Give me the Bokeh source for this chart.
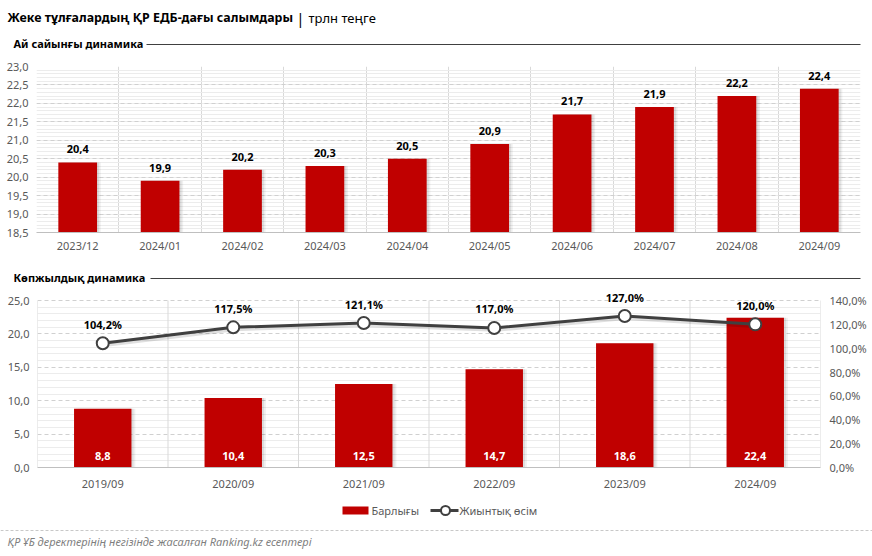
from bokeh.plotting import figure
from bokeh.layouts import column
from bokeh.models import Range1d, FixedTicker, LinearAxis, ColumnDataSource, LabelSet
from bokeh.core.properties import value
from bokeh.transform import dodge
from bokeh.embed import file_html
from bokeh.resources import INLINE

# ---------------- data ----------------
months = ["2023/12", "2024/01", "2024/02", "2024/03", "2024/04",
          "2024/05", "2024/06", "2024/07", "2024/08", "2024/09"]
monthly = [20.4, 19.9, 20.2, 20.3, 20.5, 20.9, 21.7, 21.9, 22.2, 22.4]

years = ["2019/09", "2020/09", "2021/09", "2022/09", "2023/09", "2024/09"]
yearly = [8.8, 10.4, 12.5, 14.7, 18.6, 22.4]
growth = [104.2, 117.5, 121.1, 117.0, 127.0, 120.0]

top_ticks = [18.5, 19.0, 19.5, 20.0, 20.5, 21.0, 21.5, 22.0, 22.5, 23.0]
bot_ticks = [0, 5, 10, 15, 20, 25]
pct_ticks = [0, 20, 40, 60, 80, 100, 120, 140]

TITLE = "Жеке тұлғалардың ҚР ЕДБ-дағы салымдары"
SEP = "|"
UNIT = "трлн теңге"
SUB1 = "Ай сайынғы динамика"
SUB2 = "Көпжылдық динамика"
LEG1 = "Барлығы"
LEG2 = "Жиынтық өсім"
SOURCE = "ҚР ҰБ деректерінің негізінде жасалған Ranking.kz есептері"

FONT = "Noto Sans"
RED = "#C00000"
DARK = "#404040"
AXC = "#595959"
W = 872


def fmt(v, d=1):
    return f"{v:.{d}f}".replace(".", ",")


def blank(h):
    f = figure(width=W, height=h, x_range=Range1d(0, W), y_range=Range1d(h, 0),
               output_backend="svg", toolbar_location=None, min_border=0,
               x_axis_location=None, y_axis_location=None, title=None,
               outline_line_color=None, frame_align=False)
    f.grid.visible = False
    return f


def style_axis(ax, size="11px", standoff=6):
    ax.axis_line_color = None
    ax.major_tick_line_color = None
    ax.minor_tick_line_color = None
    ax.major_tick_out = 0
    ax.major_tick_in = 0
    ax.minor_tick_out = 0
    ax.minor_tick_in = 0
    ax.major_label_standoff = standoff
    ax.major_label_text_font = FONT
    ax.major_label_text_font_size = size
    ax.major_label_text_color = AXC


# ---------------- header ----------------
hdr1 = blank(58)
hdr1.text(x=[7], y=[17], text=[TITLE], text_font=value(FONT), text_font_size="12.4px",
          text_font_style="bold", text_baseline="middle", text_color="#000000")
hdr1.text(x=[300], y=[17], text=[SEP], text_font=value(FONT), text_font_size="15px",
          text_align="center", text_baseline="middle", text_color="#000000")
hdr1.text(x=[308], y=[17], text=[UNIT], text_font=value(FONT), text_font_size="13px",
          text_baseline="middle", text_color="#000000")
hdr1.text(x=[13], y=[43], text=[SUB1], text_font=value(FONT), text_font_size="11px",
          text_font_style="bold", text_baseline="middle", text_color="#000000")
hdr1.segment(x0=[146], y0=[44], x1=[860], y1=[44], line_color=DARK, line_width=1)

# ---------------- top chart ----------------
n = len(months)
xs = [i + 0.5 for i in range(n)]
src_t = ColumnDataSource(dict(x=xs, y=monthly, lab=[fmt(v) for v in monthly]))

top = figure(width=W, height=206, x_range=Range1d(0, n),
             y_range=Range1d(top_ticks[0], top_ticks[-1]), title=None,
             output_backend="svg", toolbar_location=None, frame_align=False,
             min_border_left=36, min_border_right=12, min_border_top=8,
             min_border_bottom=32, outline_line_color=None)
minor_t = [round(top_ticks[0] + 0.1 * k, 1) for k in range(1, 46)]
top.yaxis.ticker = FixedTicker(ticks=top_ticks, minor_ticks=minor_t)
top.yaxis.major_label_overrides = {t: fmt(t) for t in top_ticks}
top.xaxis.ticker = FixedTicker(ticks=xs)
top.xaxis.major_label_overrides = {x: m for x, m in zip(xs, months)}
style_axis(top.yaxis[0], standoff=8)
style_axis(top.xaxis[0], standoff=5)
top.xaxis.axis_line_color = "#bfbfbf"
top.ygrid.grid_line_color = "#d0d0d0"
top.ygrid.grid_line_dash = "4 3"
top.ygrid.minor_grid_line_color = "#ececec"
top.xgrid.ticker = FixedTicker(ticks=list(range(n + 1)))
top.xgrid.grid_line_color = "#d9d9d9"

top.vbar(x=dodge("x", 0.045), top="y", bottom=top_ticks[0], width=0.47, source=src_t,
         fill_color="#000000", fill_alpha=0.06, line_color=None)
top.vbar(x=dodge("x", 0.025), top="y", bottom=top_ticks[0], width=0.47, source=src_t,
         fill_color="#000000", fill_alpha=0.08, line_color=None)
top.vbar(x="x", top="y", bottom=top_ticks[0], width=0.47, source=src_t,
         fill_color=RED, line_color=None)
top.add_layout(LabelSet(x="x", y="y", text="lab", source=src_t, text_align="center",
                        text_baseline="middle", y_offset=13, text_font=value(FONT),
                        text_font_size="11px", text_font_style="bold",
                        text_color="#000000"))

# ---------------- header 2 ----------------
hdr2 = blank(20)
hdr2.text(x=[13], y=[13], text=[SUB2], text_font=value(FONT), text_font_size="11px",
          text_font_style="bold", text_baseline="middle", text_color="#000000")
hdr2.segment(x0=[150], y0=[14], x1=[860], y1=[14], line_color=DARK, line_width=1)

# ---------------- bottom chart ----------------
m = len(years)
xb = [i + 0.5 for i in range(m)]
src_b = ColumnDataSource(dict(x=xb, y=yearly, g=growth,
                              lab=[fmt(v) for v in yearly],
                              glab=[fmt(v) + "%" for v in growth]))

# frame is 183 px tall; the 0..25 axis span uses the lower 167 px,
# the extra headroom keeps the percentage labels unclipped
FRAME_H, AXIS_H = 183, 167
y_end = bot_ticks[-1] * FRAME_H / AXIS_H
p_end = pct_ticks[-1] * FRAME_H / AXIS_H

bot = figure(width=W, height=216, x_range=Range1d(0, m),
             y_range=Range1d(bot_ticks[0], y_end), title=None,
             output_backend="svg", toolbar_location=None, frame_align=False,
             min_border_left=37, min_border_right=52, min_border_top=0,
             min_border_bottom=33, outline_line_color=None)
bot.extra_y_ranges = {"pct": Range1d(pct_ticks[0], p_end)}
minor_b = [k for k in range(0, 26) if k % 5]
bot.yaxis.ticker = FixedTicker(ticks=bot_ticks, minor_ticks=minor_b)
bot.yaxis.major_label_overrides = {t: fmt(t) for t in bot_ticks}
bot.xaxis.ticker = FixedTicker(ticks=xb)
bot.xaxis.major_label_overrides = {x: yl for x, yl in zip(xb, years)}
style_axis(bot.yaxis[0], standoff=8)
style_axis(bot.xaxis[0], standoff=8)
bot.xaxis.axis_line_color = "#bfbfbf"
rax = LinearAxis(y_range_name="pct", ticker=FixedTicker(ticks=pct_ticks))
rax.major_label_overrides = {t: fmt(t) + "%" for t in pct_ticks}
style_axis(rax, standoff=9)
bot.add_layout(rax, "right")
bot.ygrid.grid_line_color = "#d0d0d0"
bot.ygrid.grid_line_dash = "4 3"
bot.ygrid.minor_grid_line_color = "#ececec"
bot.xgrid.visible = False
bounds = list(range(m + 1))
bot.segment(x0=bounds, y0=[bot_ticks[0]] * len(bounds), x1=bounds,
            y1=[bot_ticks[-1]] * len(bounds), line_color="#d9d9d9", line_width=1)

bot.vbar(x=dodge("x", 0.03), top="y", bottom=0, width=0.44, source=src_b,
         fill_color="#000000", fill_alpha=0.06, line_color=None)
bot.vbar(x=dodge("x", 0.016), top="y", bottom=0, width=0.44, source=src_b,
         fill_color="#000000", fill_alpha=0.08, line_color=None)
bot.vbar(x="x", top="y", bottom=0, width=0.44, source=src_b,
         fill_color=RED, line_color=None)
bot.add_layout(LabelSet(x="x", y=0, text="lab", source=src_b, text_align="center",
                        text_baseline="middle", y_offset=12, text_font=value(FONT),
                        text_font_size="11px", text_font_style="bold",
                        text_color="#ffffff"))

# soft shadow under the growth line
bot.line(x=dodge("x", 0.012), y=dodge("g", -1.6), source=src_b, y_range_name="pct",
         line_color="#000000", line_alpha=0.12, line_width=4)
bot.line(x="x", y="g", source=src_b, y_range_name="pct", line_color=DARK, line_width=3)
bot.scatter(x="x", y="g", source=src_b, y_range_name="pct", size=12,
            fill_color="#ffffff", line_color=DARK, line_width=2)
bot.add_layout(LabelSet(x="x", y="g", text="glab", source=src_b, y_range_name="pct",
                        text_align="center", text_baseline="middle", y_offset=19,
                        text_font=value(FONT), text_font_size="11px",
                        text_font_style="bold", text_color="#000000"))

# ---------------- footer / legend ----------------
foot = blank(56)
foot.rect(x=[355], y=[10], width=[26], height=[8], fill_color=RED, line_color=None)
foot.text(x=[371], y=[10], text=[LEG1], text_font=value(FONT), text_font_size="11px",
          text_baseline="middle", text_color=AXC)
foot.segment(x0=[430], y0=[10], x1=[458], y1=[10], line_color=DARK, line_width=3)
foot.scatter(x=[445], y=[10], size=9, fill_color="#ffffff", line_color=DARK, line_width=2)
foot.text(x=[459], y=[10], text=[LEG2], text_font=value(FONT), text_font_size="11px",
          text_baseline="middle", text_color=AXC)
foot.segment(x0=[0], y0=[30], x1=[W], y1=[30], line_color="#c8c8c8", line_width=1,
             line_dash="3 2")
foot.text(x=[7], y=[41], text=[SOURCE], text_font=value(FONT), text_font_size="11px",
          text_font_style="italic", text_baseline="middle", text_color="#7f7f7f")

layout = column(hdr1, top, hdr2, bot, foot, spacing=0)
open("out.html", "w").write(file_html(layout, INLINE))
